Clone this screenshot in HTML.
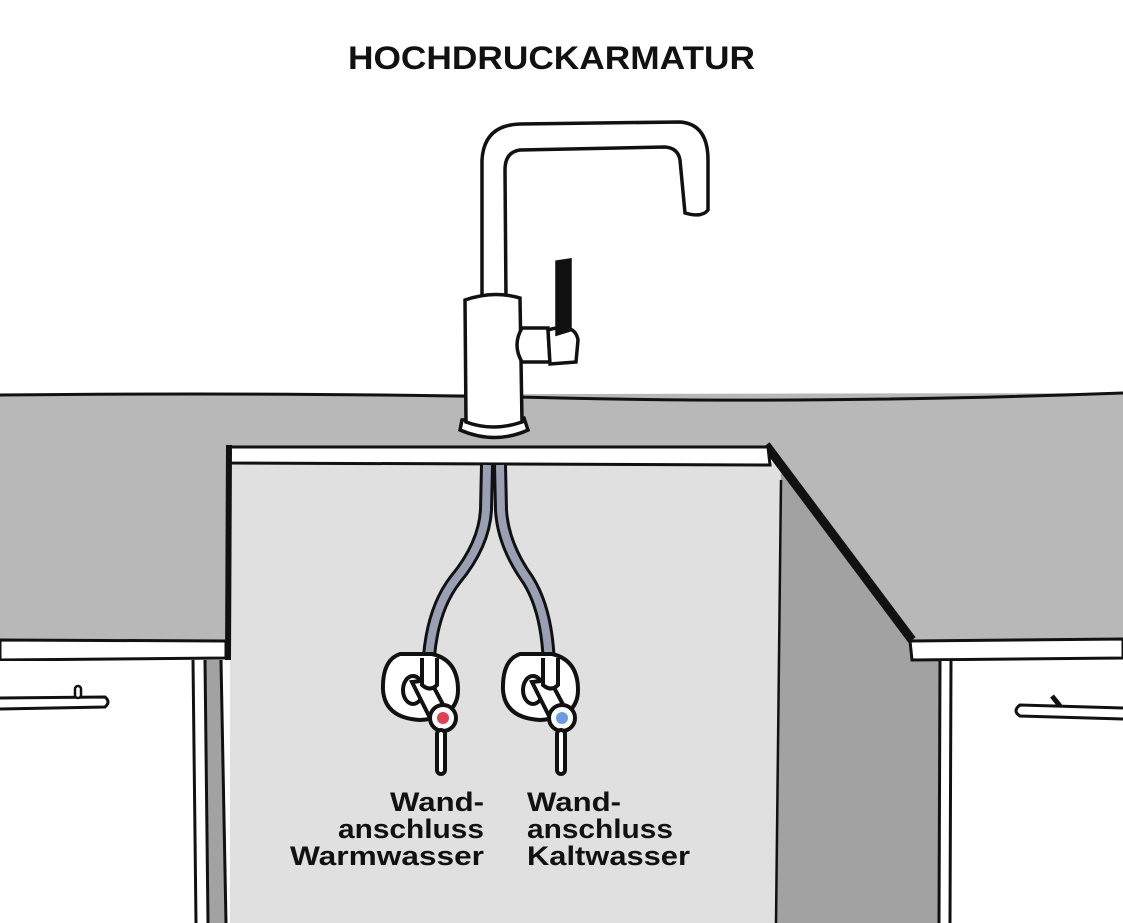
<!DOCTYPE html>
<html><head><meta charset="utf-8"><style>
html,body{margin:0;padding:0;background:#fff;}
svg{display:block;}
text{font-family:"Liberation Sans",sans-serif;font-weight:bold;fill:#111;}
</style></head><body>
<svg width="1123" height="923" viewBox="0 0 1123 923" xmlns="http://www.w3.org/2000/svg">
<rect width="1123" height="923" fill="#fff"/>
<!-- countertop -->
<path d="M0 395 L1123 393 L1123 640 L910 640 L768 447 L230 447 L228 640 L0 640 Z" fill="#b8b8b8"/>
<path d="M0 395 Q300 392 560 398 T1123 393" fill="none" stroke="#111" stroke-width="3"/>
<!-- interior -->
<rect x="230" y="463" width="552" height="460" fill="#e0e0e0"/>
<!-- side panel -->
<path d="M768 447 L912 645 L940 660 L940 923 L775 923 L781 465 Z" fill="#a2a2a2"/>
<path d="M781 480 L776 923" stroke="#111" stroke-width="2.5" fill="none"/>
<!-- diagonal edge -->
<path d="M766 445 L912 640" stroke="#111" stroke-width="9" fill="none"/>
<!-- middle white strip -->
<path d="M230 447 L768 447 L770 465 L230 463 Z" fill="#fff" stroke="#111" stroke-width="3"/>
<!-- left edge -->
<path d="M229 445 L228 660" stroke="#111" stroke-width="6"/>
<!-- left strip -->
<path d="M0 640 L226 641 L226 658 L0 660 Z" fill="#fff" stroke="#111" stroke-width="3"/>
<rect x="0" y="661" width="193" height="262" fill="#fff"/>
<path d="M205 660 L208 923 L226 923 L221 660 Z" fill="#a2a2a2"/>
<path d="M193 660 L196 923 M205 660 L208 923 M221 660 L226 923" stroke="#111" stroke-width="3" fill="none"/>
<path d="M0 698 L105 697 Q111 702 105 707 L0 709" fill="#fff" stroke="#111" stroke-width="3"/>
<rect x="75" y="686" width="6" height="12" rx="3" fill="#fff" stroke="#111" stroke-width="2.5"/>
<!-- right strip -->
<path d="M910 641 L1123 639 L1123 658 L912 660 Z" fill="#fff" stroke="#111" stroke-width="3"/>
<rect x="951" y="661" width="172" height="262" fill="#fff"/>
<rect x="940" y="661" width="11" height="262" fill="#fff"/>
<path d="M940 660 L939 923 M951 660 L950 923" stroke="#111" stroke-width="3" fill="none"/>
<path d="M1123 708 L1020 705 Q1012 711 1020 716 L1123 719" fill="#fff" stroke="#111" stroke-width="3"/>
<path d="M1052 696 L1060 706" stroke="#111" stroke-width="5"/>
<!-- hoses -->
<path d="M487 465 L486 510 Q484 545 455 580 Q428 615 428 680" fill="none" stroke="#111" stroke-width="14"/>
<path d="M487 465 L486 510 Q484 545 455 580 Q428 615 428 680" fill="none" stroke="#9aa0b4" stroke-width="8"/>
<path d="M500 465 L501 510 Q503 545 528 580 Q550 615 549 680" fill="none" stroke="#111" stroke-width="14"/>
<path d="M500 465 L501 510 Q503 545 528 580 Q550 615 549 680" fill="none" stroke="#9aa0b4" stroke-width="8"/>
<!-- valves -->
<g stroke="#111" stroke-width="4" fill="#fff">
<path d="M400 654 Q382 660 383 690 Q385 718 420 720 Q458 718 458 690 Q458 660 432 654 Z"/>
<ellipse cx="413" cy="690" rx="10" ry="14"/>
<path d="M412 682 L430 680 L447 712 L432 722 Z"/>
<path d="M422 658 L422 685 Q430 692 437 685 L437 658"/>
<circle cx="443" cy="718" r="13"/>
<rect x="437" y="730" width="8" height="44" rx="4"/>
<path d="M520 654 Q502 660 503 690 Q505 718 540 720 Q578 718 578 690 Q578 660 552 654 Z"/>
<ellipse cx="533" cy="690" rx="10" ry="14"/>
<path d="M532 682 L550 680 L567 712 L552 722 Z"/>
<path d="M543 658 L543 685 Q551 692 558 685 L558 658"/>
<circle cx="562" cy="718" r="13"/>
<rect x="557" y="730" width="8" height="44" rx="4"/>
</g>
<circle cx="443" cy="718" r="6" fill="#e04050"/>
<circle cx="562" cy="718" r="6" fill="#6a9de0"/>
<!-- faucet -->
<g stroke="#111" stroke-width="3.5" fill="#fff">
<path d="M482 300 L482 160 Q484 125 520 124 L680 122 Q708 124 708 160 L708 210 Q702 218 685 213 L680 160 Q678 148 665 147 L520 150 Q505 152 505 170 L506 300 Z"/>
<path d="M462 420 L460 430 Q495 445 528 430 L524 418 Z"/>
<path d="M465 300 Q493 290 520 298 L522 422 Q493 432 466 422 Z"/>
<path d="M522 328 L548 328 L550 362 L522 362 Q512 345 522 328 Z"/>
<path d="M548 330 Q575 322 578 340 L576 362 L550 364 Z"/>
<path d="M557 262 L570 260 L570 330 L557 334 Z" fill="#111"/>
</g>
<!-- text -->
<text x="348" y="69" font-size="32" textLength="407" lengthAdjust="spacingAndGlyphs">HOCHDRUCKARMATUR</text>
<g font-size="27">
<text x="390" y="811" textLength="94" lengthAdjust="spacingAndGlyphs">Wand-</text>
<text x="338" y="838" textLength="146" lengthAdjust="spacingAndGlyphs">anschluss</text>
<text x="290" y="865" textLength="194" lengthAdjust="spacingAndGlyphs">Warmwasser</text>
<text x="527" y="811" textLength="94" lengthAdjust="spacingAndGlyphs">Wand-</text>
<text x="527" y="838" textLength="146" lengthAdjust="spacingAndGlyphs">anschluss</text>
<text x="527" y="865" textLength="163" lengthAdjust="spacingAndGlyphs">Kaltwasser</text>
</g>
</svg>
</body></html>
